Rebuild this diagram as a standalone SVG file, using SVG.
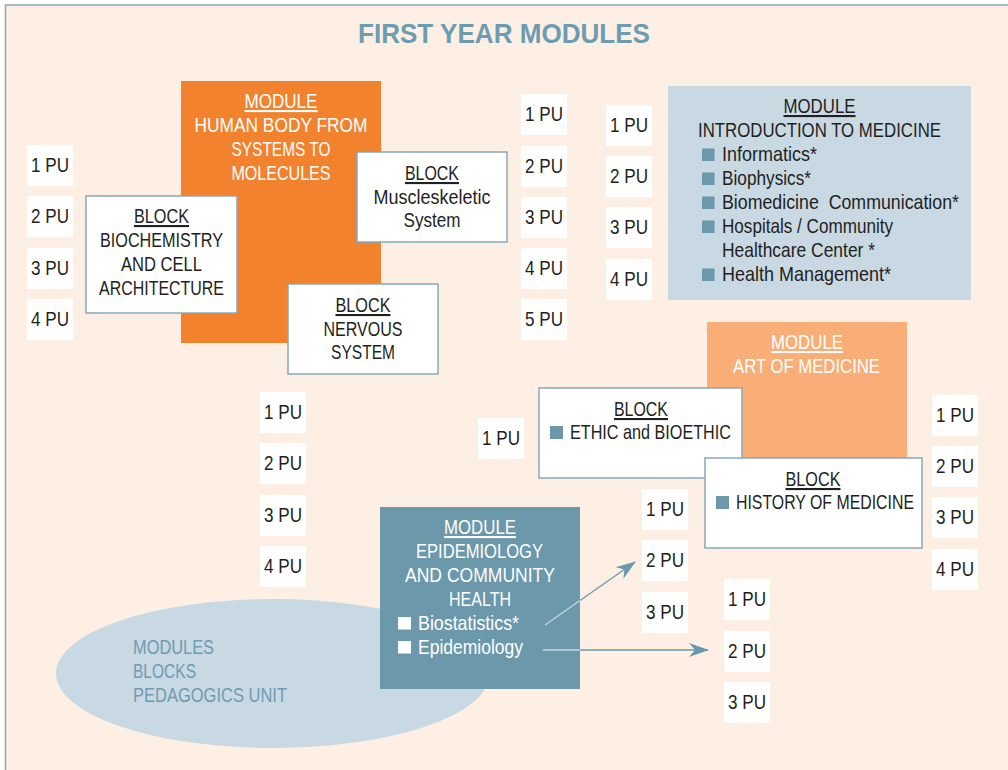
<svg xmlns="http://www.w3.org/2000/svg" width="1008" height="770" viewBox="0 0 1008 770">
<defs>
<style>
text{font-family:"Liberation Sans",Arial,sans-serif;font-size:21px;fill:#231f20}
.w{fill:#ffffff}
.c{text-anchor:middle}
.u{text-decoration:underline}
.eb{fill:#6d9cb1}
.pu rect{fill:#ffffff}
.blk{fill:#ffffff;stroke:#86a9bb;stroke-width:1.5}
.sq{fill:#6b98ab}
.wsq{fill:#ffffff}
.title{font-size:28px;font-weight:bold;fill:#6d9cb1}
</style>
<marker id="ah" viewBox="0 0 20 14" refX="19" refY="7" markerWidth="20" markerHeight="14" markerUnits="userSpaceOnUse" orient="auto">
<path d="M0,0 L20,7 L0,14 L6,7 z" fill="#6b98ab"/>
</marker>
<g id="pub"><rect width="46" height="41" fill="#ffffff"/></g>
</defs>

<rect x="5.5" y="5" width="1010" height="780" fill="#fdefe4" stroke="#8aa8b8" stroke-width="1.5"/>
<text class="title c" x="504" y="43" textLength="292" lengthAdjust="spacingAndGlyphs">FIRST YEAR MODULES</text>

<g id="module-human-body">
<rect x="181" y="81" width="200" height="262" fill="#f2822e"/>
<text class="w c u" x="281" y="108" textLength="73" lengthAdjust="spacingAndGlyphs">MODULE</text>
<text class="w c" x="281" y="132" textLength="173" lengthAdjust="spacingAndGlyphs">HUMAN BODY FROM</text>
<text class="w c" x="281" y="156" textLength="99" lengthAdjust="spacingAndGlyphs">SYSTEMS TO</text>
<text class="w c" x="281" y="180" textLength="99" lengthAdjust="spacingAndGlyphs">MOLECULES</text>
</g>

<g id="block-biochemistry">
<rect class="blk" x="86" y="196" width="151" height="117"/>
<text class="c u" x="161.5" y="223" textLength="55" lengthAdjust="spacingAndGlyphs">BLOCK</text>
<text class="c" x="161.5" y="247" textLength="123" lengthAdjust="spacingAndGlyphs">BIOCHEMISTRY</text>
<text class="c" x="161.5" y="271" textLength="81" lengthAdjust="spacingAndGlyphs">AND CELL</text>
<text class="c" x="161.5" y="295" textLength="125" lengthAdjust="spacingAndGlyphs">ARCHITECTURE</text>
</g>

<g id="block-muscleskeletic">
<rect class="blk" x="357" y="152" width="150" height="90"/>
<text class="c u" x="432" y="180" textLength="54" lengthAdjust="spacingAndGlyphs">BLOCK</text>
<text class="c" x="432" y="204" textLength="117" lengthAdjust="spacingAndGlyphs">Muscleskeletic</text>
<text class="c" x="432" y="227" textLength="57" lengthAdjust="spacingAndGlyphs">System</text>
</g>

<g id="block-nervous">
<rect class="blk" x="288" y="284" width="150" height="90"/>
<text class="c u" x="363" y="312" textLength="55" lengthAdjust="spacingAndGlyphs">BLOCK</text>
<text class="c" x="363" y="336" textLength="79" lengthAdjust="spacingAndGlyphs">NERVOUS</text>
<text class="c" x="363" y="359" textLength="64" lengthAdjust="spacingAndGlyphs">SYSTEM</text>
</g>

<g id="module-intro">
<rect x="668" y="86" width="303" height="214" fill="#c9d9e3"/>
<text class="c u" x="819.5" y="113" textLength="72" lengthAdjust="spacingAndGlyphs">MODULE</text>
<text class="c" x="819.5" y="137" textLength="243" lengthAdjust="spacingAndGlyphs">INTRODUCTION TO MEDICINE</text>
<rect class="sq" x="702" y="148.5" width="12.5" height="12.5"/>
<text x="722" y="161" textLength="95" lengthAdjust="spacingAndGlyphs">Informatics*</text>
<rect class="sq" x="702" y="172.5" width="12.5" height="12.5"/>
<text x="722" y="185" textLength="89" lengthAdjust="spacingAndGlyphs">Biophysics*</text>
<rect class="sq" x="702" y="196.5" width="12.5" height="12.5"/>
<text x="722" y="209" textLength="237" lengthAdjust="spacingAndGlyphs" xml:space="preserve">Biomedicine  Communication*</text>
<rect class="sq" x="702" y="220.5" width="12.5" height="12.5"/>
<text x="722" y="233" textLength="171" lengthAdjust="spacingAndGlyphs">Hospitals / Community</text>
<text x="722" y="257" textLength="153" lengthAdjust="spacingAndGlyphs">Healthcare Center *</text>
<rect class="sq" x="702" y="268.5" width="12.5" height="12.5"/>
<text x="722" y="281" textLength="169" lengthAdjust="spacingAndGlyphs">Health Management*</text>
</g>

<g id="module-art">
<rect x="707" y="322" width="200" height="136" fill="#f9ae78"/>
<text class="w c u" x="807" y="349" textLength="72" lengthAdjust="spacingAndGlyphs">MODULE</text>
<text class="w c" x="806.5" y="373" textLength="147" lengthAdjust="spacingAndGlyphs">ART OF MEDICINE</text>
</g>

<g id="block-ethic">
<rect class="blk" x="539" y="388" width="203" height="90"/>
<text class="c u" x="641" y="416" textLength="54" lengthAdjust="spacingAndGlyphs">BLOCK</text>
<rect class="sq" x="550" y="426" width="13" height="13"/>
<text x="570" y="439" textLength="161" lengthAdjust="spacingAndGlyphs">ETHIC and BIOETHIC</text>
</g>

<g id="block-history">
<rect class="blk" x="705" y="458" width="217" height="90"/>
<text class="c u" x="813" y="486" textLength="55" lengthAdjust="spacingAndGlyphs">BLOCK</text>
<rect class="sq" x="716" y="496" width="13" height="13"/>
<text x="736" y="509" textLength="178" lengthAdjust="spacingAndGlyphs">HISTORY OF MEDICINE</text>
</g>

<g id="legend">
<ellipse cx="273" cy="673.5" rx="217" ry="74.5" fill="#c9d9e3"/>
<text class="eb" x="133" y="654" textLength="81" lengthAdjust="spacingAndGlyphs">MODULES</text>
<text class="eb" x="133" y="678" textLength="63" lengthAdjust="spacingAndGlyphs">BLOCKS</text>
<text class="eb" x="133" y="702" textLength="154" lengthAdjust="spacingAndGlyphs">PEDAGOGICS UNIT</text>
</g>

<g id="module-epidemiology">
<rect x="380" y="507" width="200" height="182" fill="#6b98ab"/>
<text class="w c u" x="480" y="534" textLength="72" lengthAdjust="spacingAndGlyphs">MODULE</text>
<text class="w c" x="479.5" y="558" textLength="127" lengthAdjust="spacingAndGlyphs">EPIDEMIOLOGY</text>
<text class="w c" x="480" y="582" textLength="150" lengthAdjust="spacingAndGlyphs">AND COMMUNITY</text>
<text class="w c" x="480" y="606" textLength="62" lengthAdjust="spacingAndGlyphs">HEALTH</text>
<rect class="wsq" x="398" y="617" width="13" height="12.5"/>
<text class="w" x="418" y="630" textLength="101" lengthAdjust="spacingAndGlyphs">Biostatistics*</text>
<rect class="wsq" x="398" y="641" width="13" height="12.5"/>
<text class="w" x="418" y="654" textLength="105" lengthAdjust="spacingAndGlyphs">Epidemiology</text>
</g>

<g id="pu-units" class="pu">
<g transform="translate(27,145)"><rect width="46" height="41"/><text class="c" x="23" y="27" textLength="38" lengthAdjust="spacingAndGlyphs">1 PU</text></g>
<g transform="translate(27,196)"><rect width="46" height="41"/><text class="c" x="23" y="27" textLength="38" lengthAdjust="spacingAndGlyphs">2 PU</text></g>
<g transform="translate(27,248)"><rect width="46" height="41"/><text class="c" x="23" y="27" textLength="38" lengthAdjust="spacingAndGlyphs">3 PU</text></g>
<g transform="translate(27,299)"><rect width="46" height="41"/><text class="c" x="23" y="27" textLength="38" lengthAdjust="spacingAndGlyphs">4 PU</text></g>

<g transform="translate(521,94)"><rect width="46" height="41"/><text class="c" x="23" y="27" textLength="38" lengthAdjust="spacingAndGlyphs">1 PU</text></g>
<g transform="translate(521,146)"><rect width="46" height="41"/><text class="c" x="23" y="27" textLength="38" lengthAdjust="spacingAndGlyphs">2 PU</text></g>
<g transform="translate(521,197)"><rect width="46" height="41"/><text class="c" x="23" y="27" textLength="38" lengthAdjust="spacingAndGlyphs">3 PU</text></g>
<g transform="translate(521,248)"><rect width="46" height="41"/><text class="c" x="23" y="27" textLength="38" lengthAdjust="spacingAndGlyphs">4 PU</text></g>
<g transform="translate(521,299)"><rect width="46" height="41"/><text class="c" x="23" y="27" textLength="38" lengthAdjust="spacingAndGlyphs">5 PU</text></g>

<g transform="translate(606,105)"><rect width="46" height="41"/><text class="c" x="23" y="27" textLength="38" lengthAdjust="spacingAndGlyphs">1 PU</text></g>
<g transform="translate(606,156)"><rect width="46" height="41"/><text class="c" x="23" y="27" textLength="38" lengthAdjust="spacingAndGlyphs">2 PU</text></g>
<g transform="translate(606,207)"><rect width="46" height="41"/><text class="c" x="23" y="27" textLength="38" lengthAdjust="spacingAndGlyphs">3 PU</text></g>
<g transform="translate(606,259)"><rect width="46" height="41"/><text class="c" x="23" y="27" textLength="38" lengthAdjust="spacingAndGlyphs">4 PU</text></g>

<g transform="translate(260,392)"><rect width="46" height="41"/><text class="c" x="23" y="27" textLength="38" lengthAdjust="spacingAndGlyphs">1 PU</text></g>
<g transform="translate(260,443)"><rect width="46" height="41"/><text class="c" x="23" y="27" textLength="38" lengthAdjust="spacingAndGlyphs">2 PU</text></g>
<g transform="translate(260,495)"><rect width="46" height="41"/><text class="c" x="23" y="27" textLength="38" lengthAdjust="spacingAndGlyphs">3 PU</text></g>
<g transform="translate(260,546)"><rect width="46" height="41"/><text class="c" x="23" y="27" textLength="38" lengthAdjust="spacingAndGlyphs">4 PU</text></g>

<g transform="translate(478,418)"><rect width="46" height="41"/><text class="c" x="23" y="27" textLength="38" lengthAdjust="spacingAndGlyphs">1 PU</text></g>

<g transform="translate(642,489)"><rect width="46" height="41"/><text class="c" x="23" y="27" textLength="38" lengthAdjust="spacingAndGlyphs">1 PU</text></g>
<g transform="translate(642,540)"><rect width="46" height="41"/><text class="c" x="23" y="27" textLength="38" lengthAdjust="spacingAndGlyphs">2 PU</text></g>
<g transform="translate(642,592)"><rect width="46" height="41"/><text class="c" x="23" y="27" textLength="38" lengthAdjust="spacingAndGlyphs">3 PU</text></g>

<g transform="translate(724,579)"><rect width="46" height="41"/><text class="c" x="23" y="27" textLength="38" lengthAdjust="spacingAndGlyphs">1 PU</text></g>
<g transform="translate(724,631)"><rect width="46" height="41"/><text class="c" x="23" y="27" textLength="38" lengthAdjust="spacingAndGlyphs">2 PU</text></g>
<g transform="translate(724,682)"><rect width="46" height="41"/><text class="c" x="23" y="27" textLength="38" lengthAdjust="spacingAndGlyphs">3 PU</text></g>

<g transform="translate(932,395)"><rect width="46" height="41"/><text class="c" x="23" y="27" textLength="38" lengthAdjust="spacingAndGlyphs">1 PU</text></g>
<g transform="translate(932,446)"><rect width="46" height="41"/><text class="c" x="23" y="27" textLength="38" lengthAdjust="spacingAndGlyphs">2 PU</text></g>
<g transform="translate(932,497)"><rect width="46" height="41"/><text class="c" x="23" y="27" textLength="38" lengthAdjust="spacingAndGlyphs">3 PU</text></g>
<g transform="translate(932,549)"><rect width="46" height="41"/><text class="c" x="23" y="27" textLength="38" lengthAdjust="spacingAndGlyphs">4 PU</text></g>
</g>

<g id="connectors" fill="none" stroke-width="1.3">
<line x1="545" y1="625" x2="580" y2="600.5" stroke="#c8d8e1"/>
<line x1="580" y1="600.5" x2="635" y2="562" stroke="#6b98ab" marker-end="url(#ah)"/>
<line x1="543" y1="650" x2="580" y2="650" stroke="#c8d8e1"/>
<line x1="580" y1="650" x2="708" y2="650" stroke="#6b98ab" marker-end="url(#ah)"/>
</g>
</svg>
